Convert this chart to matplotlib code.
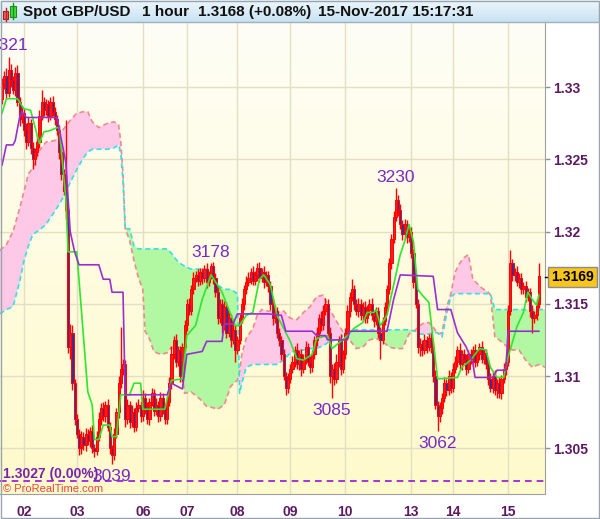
import matplotlib
matplotlib.use("Agg")
import matplotlib.pyplot as plt
import numpy as np
from matplotlib.colors import LinearSegmentedColormap
from matplotlib.patches import Rectangle
from matplotlib.lines import Line2D

plt.rcParams['font.family'] = ['Liberation Sans', 'DejaVu Sans']

# ---------------- data ----------------
instrument = 'Spot GBP/USD'
timeframe = '1 hour'
last_info = '1.3168 (+0.08%)'
stamp = '15-Nov-2017 15:17:31'
ref_level = 1.3027

first_open = 1.3292
close = [
    1.3302, 1.3308, 1.3296, 1.3312, 1.3305, 1.3298, 1.3310, 1.3290, 1.3278, 1.3282,
    1.3270, 1.3262, 1.3275, 1.3258, 1.3250, 1.3255, 1.3262, 1.3280, 1.3290, 1.3284,
    1.3288, 1.3280, 1.3290, 1.3283, 1.3278, 1.3270, 1.3255, 1.3240, 1.3228, 1.3215,
    1.3120, 1.3130, 1.3095, 1.3070, 1.3060, 1.3050, 1.3058, 1.3052, 1.3060, 1.3055, 1.3062, 1.3050,
    1.3048, 1.3058, 1.3070, 1.3078, 1.3072, 1.3080, 1.3065, 1.3050, 1.3045, 1.3060,
    1.3075, 1.3095, 1.3105, 1.3108, 1.3070, 1.3080, 1.3068, 1.3075, 1.3065, 1.3078,
    1.3080, 1.3072, 1.3085, 1.3078, 1.3070, 1.3082, 1.3088, 1.3076, 1.3080, 1.3072, 1.3085, 1.3078, 1.3070, 1.3082,
    1.3095, 1.3115, 1.3125, 1.3110, 1.3118, 1.3100,
    1.3120, 1.3135, 1.3150, 1.3145, 1.3160, 1.3168,
    1.3170, 1.3166, 1.3172, 1.3168, 1.3174, 1.3165, 1.3170, 1.3176, 1.3168,
    1.3158, 1.3140, 1.3150, 1.3135,
    1.3148, 1.3130, 1.3140, 1.3125, 1.3132, 1.3118, 1.3125,
    1.3140, 1.3150, 1.3160, 1.3165,
    1.3168, 1.3172, 1.3166, 1.3170, 1.3175, 1.3168, 1.3172, 1.3165, 1.3170, 1.3162,
    1.3150, 1.3140, 1.3145, 1.3130, 1.3125,
    1.3115, 1.3100, 1.3092, 1.3098, 1.3105,
    1.3110, 1.3118, 1.3108, 1.3115, 1.3105, 1.3112, 1.3120, 1.3110, 1.3106, 1.3115,
    1.3125, 1.3130, 1.3140, 1.3135, 1.3145, 1.3150,
    1.3130, 1.3100, 1.3105, 1.3098,
    1.3110, 1.3125, 1.3105, 1.3115,
    1.3130, 1.3145, 1.3155, 1.3160, 1.3150,
    1.3145, 1.3150, 1.3142, 1.3148, 1.3140, 1.3146, 1.3150, 1.3142, 1.3138, 1.3145,
    1.3130, 1.3125, 1.3138, 1.3148,
    1.3160, 1.3178, 1.3195, 1.3210, 1.3222, 1.3215, 1.3205,
    1.3198, 1.3205, 1.3196, 1.3200,
    1.3185, 1.3165, 1.3150, 1.3120,
    1.3122, 1.3118, 1.3125, 1.3120, 1.3126, 1.3120,
    1.3100, 1.3080, 1.3072, 1.3078,
    1.3085, 1.3095, 1.3090, 1.3100, 1.3092, 1.3105,
    1.3110, 1.3118, 1.3108, 1.3115, 1.3112, 1.3105,
    1.3115, 1.3112, 1.3118, 1.3110, 1.3115, 1.3120, 1.3112, 1.3116, 1.3108,
    1.3098, 1.3092, 1.3100, 1.3090, 1.3095, 1.3088,
    1.3098, 1.3105, 1.3110,
    1.3145, 1.3178, 1.3170,
    1.3172, 1.3165, 1.3168, 1.3160,
    1.3162, 1.3155, 1.3158,
    1.3145, 1.3140, 1.3142,
    1.3150, 1.3169,
]
# wick lengths above body / below body, in pips
up_pips = [
    4, 3, 5, 9, 4, 3, 4, 5, 3, 4,
    3, 5, 4, 3, 4, 3, 5, 4, 8, 3,
    4, 3, 3, 4, 3, 3, 4, 3, 3, 49,
    2, 6, 5, 3, 4, 3, 4, 3, 4, 3, 3, 4,
    3, 4, 5, 3, 4, 3, 4, 3, 2, 4,
    3, 5, 29, 4, 3, 4, 3, 5, 3, 4,
    4, 3, 5, 3, 4, 3, 4, 3, 5, 3, 4, 3, 3, 4,
    4, 6, 3, 4, 3, 3,
    3, 4, 3, 4, 3, 4,
    3, 4, 3, 3, 3, 4, 3, 2, 3,
    3, 4, 3, 3,
    4, 3, 4, 3, 4, 3, 3,
    3, 4, 3, 4,
    4, 3, 4, 3, 3, 4, 3, 4, 3, 3,
    4, 3, 4, 3, 3,
    3, 4, 3, 4, 3,
    4, 3, 5, 3, 4, 3, 4, 3, 4, 3,
    3, 4, 3, 5, 4, 4,
    3, 4, 3, 4,
    5, 3, 4, 3,
    3, 4, 3, 7, 3,
    3, 4, 3, 3, 4, 3, 3, 4, 3, 3,
    3, 4, 3, 3,
    3, 4, 3, 4, 8, 3, 4,
    3, 4, 3, 3,
    3, 3, 4, 3,
    4, 3, 4, 3, 3, 4,
    3, 4, 3, 4,
    3, 4, 3, 4, 3, 4,
    4, 3, 5, 3, 4, 3,
    3, 4, 3, 4, 3, 3, 4, 3, 3,
    3, 4, 3, 4, 3, 4,
    3, 4, 3,
    4, 9, 3,
    3, 4, 3, 3,
    3, 4, 3,
    3, 4, 3,
    3, 9,
]
dn_pips = [
    4, 3, 4, 3, 5, 3, 4, 3, 5, 3,
    4, 5, 3, 4, 7, 4, 3, 4, 3, 4,
    3, 4, 3, 3, 4, 3, 5, 4, 3, 6,
    4, 8, 5, 4, 3, 5, 4, 3, 4, 3, 4, 3,
    4, 3, 3, 4, 3, 4, 3, 4, 6, 3,
    3, 4, 3, 4, 5, 3, 4, 3, 4, 3,
    3, 4, 3, 4, 3, 4, 3, 4, 3, 4, 3, 4, 3, 3,
    3, 4, 3, 4, 3, 4,
    4, 3, 4, 3, 3, 3,
    3, 4, 3, 4, 3, 4, 3, 3, 4,
    3, 4, 3, 5,
    3, 4, 3, 5, 3, 8, 3,
    3, 3, 4, 3,
    3, 4, 3, 3, 4, 3, 3, 4, 3, 4,
    4, 5, 3, 4, 4,
    4, 3, 5, 4, 3,
    3, 4, 3, 4, 5, 3, 4, 3, 4, 3,
    3, 4, 3, 4, 3, 3,
    4, 5, 15, 4,
    3, 4, 4, 3,
    3, 3, 4, 3, 4,
    3, 4, 3, 4, 3, 3, 4, 3, 4, 3,
    4, 13, 3, 3,
    3, 3, 4, 3, 3, 4, 3,
    4, 3, 4, 3,
    3, 4, 3, 4,
    6, 4, 3, 4, 3, 4,
    4, 3, 10, 4,
    4, 3, 4, 3, 4, 3,
    3, 4, 3, 4, 3, 4,
    3, 4, 3, 4, 3, 4, 3, 4, 3,
    4, 3, 4, 3, 5, 3,
    4, 3, 4,
    3, 3, 4,
    4, 3, 4, 3,
    3, 4, 3,
    4, 10, 3,
    3, 3,
]

# Tenkan-sen (green)
tenkan_idx = [0, 2, 7, 10, 13, 17, 19, 22, 25, 26, 29, 30, 34, 39, 41, 42, 44, 45, 46, 49,
              50, 52, 54, 58, 60, 63, 64, 74, 77, 82, 84, 88, 91, 95, 98, 100, 106, 108, 111, 114,
              117, 119, 122, 125, 128, 131, 134, 137, 141, 143, 148, 150, 154, 157, 160, 164, 166, 169, 170, 172,
              175, 178, 181, 183, 185, 187, 189, 191, 194, 198, 207, 209, 213, 217, 220, 222, 225, 228, 230, 234,
              237, 239, 241, 243, 244]
tenkan_val = [1.3282, 1.3292, 1.3292, 1.3285, 1.3284, 1.3261, 1.3269, 1.3270, 1.3272, 1.3272,
              1.3223, 1.3186, 1.3186, 1.3089, 1.3080, 1.3056, 1.3056, 1.3061, 1.3066, 1.3066,
              1.3058, 1.3058, 1.3087, 1.3087, 1.3095, 1.3095, 1.3077, 1.3077, 1.3097, 1.3098,
              1.3128, 1.3135, 1.3153, 1.3170, 1.3163, 1.3158, 1.3135, 1.3135, 1.3142, 1.3144,
              1.3167, 1.3170, 1.3163, 1.3142, 1.3133, 1.3124, 1.3112, 1.3111, 1.3115, 1.3126,
              1.3128, 1.3119, 1.3124, 1.3128, 1.3133, 1.3137, 1.3144, 1.3144, 1.3146, 1.3135,
              1.3142, 1.3163, 1.3184, 1.3193, 1.3205, 1.3193, 1.3160, 1.3156, 1.3151, 1.3098,
              1.3099, 1.3106, 1.3111, 1.3119, 1.3118, 1.3106, 1.3099, 1.3099, 1.3113, 1.3134,
              1.3144, 1.3158, 1.3153, 1.3149, 1.3156]

# Kijun-sen (purple)
kijun_idx = [0, 2, 5, 6, 8, 9, 11, 25, 29, 31, 33, 35, 44, 46, 49, 50, 55, 56, 75, 77,
             82, 84, 91, 93, 100, 101, 105, 107, 121, 127, 129, 141, 143, 147, 148, 157, 158, 175, 178, 181,
             196, 198, 204, 207, 211, 214, 215, 223, 225, 229, 230, 244]
kijun_val = [1.3246, 1.3260, 1.3260, 1.3263, 1.3279, 1.3283, 1.3279, 1.3279, 1.3248, 1.3200,
             1.3186, 1.3177, 1.3177, 1.3167, 1.3167, 1.3158, 1.3158, 1.3087, 1.3087, 1.3095,
             1.3091, 1.3115, 1.3117, 1.3124, 1.3124, 1.3136, 1.3136, 1.3143, 1.3143, 1.3142,
             1.3131, 1.3131, 1.3128, 1.3128, 1.3125, 1.3125, 1.3131, 1.3131, 1.3153, 1.3170,
             1.3169, 1.3146, 1.3146, 1.3130, 1.3120, 1.3109, 1.3099, 1.3099, 1.3104, 1.3104,
             1.3131, 1.3131]

# Cloud spans (A = salmon dashed, B = cyan dashed)
cloud_idx = [-1, 2, 5, 8, 10, 12, 14, 17, 20, 24, 28, 31, 34, 37, 39, 41, 44, 48, 51, 53,
             54, 55, 56, 58, 60, 62, 64, 65, 67, 69, 72, 75, 77, 80, 82, 83, 86, 90, 93, 96,
             98, 101, 104, 107, 108, 109, 111, 114, 116, 118, 121, 125, 128, 131, 134, 137, 140, 143, 146, 149,
             152, 154, 156, 158, 161, 164, 167, 170, 173, 176, 179, 182, 185, 188, 190, 192, 194, 196, 198, 200,
             202, 204, 206, 208, 210, 212, 214, 218, 221, 222, 224, 226, 229, 232, 235, 238, 241, 244, 247]
span_a = [1.3187, 1.3191, 1.3200, 1.3216, 1.3228, 1.3240, 1.3244, 1.3256, 1.3262, 1.3263,
          1.3271, 1.3277, 1.3282, 1.3283, 1.3283, 1.3276, 1.3272, 1.3275, 1.3276, 1.3274,
          1.3262, 1.3240, 1.3202, 1.3194, 1.3180, 1.3168, 1.3160, 1.3131, 1.3126, 1.3117,
          1.3115, 1.3116, 1.3120, 1.3112, 1.3100, 1.3088, 1.3089, 1.3084, 1.3079, 1.3078,
          1.3077, 1.3080, 1.3093, 1.3097, 1.3103, 1.3115, 1.3126, 1.3133, 1.3142, 1.3146,
          1.3145, 1.3144, 1.3145, 1.3140, 1.3139, 1.3144, 1.3148, 1.3155, 1.3156, 1.3146,
          1.3138, 1.3133, 1.3128, 1.3125, 1.3119, 1.3120, 1.3125, 1.3126, 1.3124, 1.3120,
          1.3119, 1.3119, 1.3129, 1.3132, 1.3135, 1.3137, 1.3137, 1.3134, 1.3129, 1.3130,
          1.3147, 1.3157, 1.3172, 1.3178, 1.3182, 1.3184, 1.3167, 1.3161, 1.3158, 1.3156,
          1.3127, 1.3125, 1.3121, 1.3118, 1.3118, 1.3111, 1.3106, 1.3108, 1.3106]
span_b = [1.3143, 1.3146, 1.3148, 1.3165, 1.3180, 1.3190, 1.3198, 1.3201, 1.3205, 1.3214,
          1.3224, 1.3234, 1.3243, 1.3251, 1.3255, 1.3257, 1.3257, 1.3257, 1.3258, 1.3260,
          1.3254, 1.3235, 1.3202, 1.3202, 1.3190, 1.3188, 1.3188, 1.3188, 1.3188, 1.3188,
          1.3188, 1.3188, 1.3185, 1.3179, 1.3177, 1.3176, 1.3174, 1.3174, 1.3174, 1.3173,
          1.3163, 1.3160, 1.3160, 1.3157, 1.3088, 1.3095, 1.3106, 1.3108, 1.3108, 1.3108,
          1.3108, 1.3108, 1.3111, 1.3116, 1.3118, 1.3118, 1.3119, 1.3119, 1.3121, 1.3124,
          1.3125, 1.3126, 1.3130, 1.3131, 1.3132, 1.3132, 1.3132, 1.3132, 1.3132, 1.3132,
          1.3132, 1.3132, 1.3132, 1.3131, 1.3129, 1.3129, 1.3129, 1.3130, 1.3130, 1.3127,
          1.3142, 1.3155, 1.3157, 1.3157, 1.3157, 1.3157, 1.3157, 1.3157, 1.3157, 1.3157,
          1.3146, 1.3146, 1.3146, 1.3146, 1.3146, 1.3146, 1.3146, 1.3146, 1.3146]

# swing labels: bar index, 'high' or 'low'
swing_bars = [3, 95, 179, 50, 150, 198]
swing_kind = ['high', 'high', 'high', 'low', 'low', 'low']

day_labels = ['02', '03', '06', '07', '08', '09', '10', '13', '14', '15']
day_bars = [10, 34, 64, 84, 107, 131, 156, 186, 205, 230]

y_ticks = [1.305, 1.31, 1.315, 1.32, 1.325, 1.33]
y_tick_labels = ['1.305', '1.31', '1.315', '1.32', '1.325', '1.33']

# ---------------- derived OHLC ----------------
n = min(len(close), len(up_pips), len(dn_pips))
c_arr = np.array(close[:n])
o_arr = np.concatenate([[first_open], c_arr[:-1]])
h_arr = np.maximum(o_arr, c_arr) + np.array(up_pips[:n]) * 1e-4
l_arr = np.minimum(o_arr, c_arr) - np.array(dn_pips[:n]) * 1e-4
idx = np.arange(n)

# ---------------- figure ----------------
W, H = 600, 519
fig = plt.figure(figsize=(W / 100, H / 100), dpi=100)
fig.patch.set_facecolor('white')


def fx(px):
    return px / W


def fy(py):
    return 1 - py / H


XMIN, XMAX = -0.91, 246.8
YMIN, YMAX = 1.30183, 1.33451

ax = fig.add_axes([0, fy(494), fx(545), fy(22) - fy(494)])
ax.set_xlim(XMIN, XMAX)
ax.set_ylim(YMIN, YMAX)

bgcmap = LinearSegmentedColormap.from_list('bg', ['#fefef6', '#fffacb'])
grad = np.linspace(0, 1, 256).reshape(-1, 1)
ax.imshow(grad, cmap=bgcmap, extent=[XMIN, XMAX, YMIN, YMAX], aspect='auto',
          origin='upper', zorder=0, interpolation='bilinear')

ax.set_axisbelow(True)
ax.set_yticks(y_ticks)
ax.set_yticklabels(y_tick_labels, fontweight='bold')
ax.set_xticks(day_bars)
ax.set_xticklabels(day_labels, fontweight='bold')
ax.grid(True, color='#e3dfc3', lw=1)

# cloud
ca = np.array(span_a)
cb = np.array(span_b)
ax.fill_between(cloud_idx, ca, cb, where=ca >= cb, interpolate=True,
                facecolor='#fdc9e6', edgecolor='none', zorder=1)
ax.fill_between(cloud_idx, ca, cb, where=ca < cb, interpolate=True,
                facecolor='#b2f7a2', edgecolor='none', zorder=1)
ax.plot(cloud_idx, span_a, color='#f08a8a', lw=1.2, ls=(0, (3, 2)), zorder=2)
ax.plot(cloud_idx, span_b, color='#33e0e8', lw=1.2, ls=(0, (3, 2)), zorder=2)

# candles
ax.vlines(idx, l_arr, h_arr, color='#ff0000', lw=1.0, zorder=3)
body_bottom = np.minimum(o_arr, c_arr)
body_h = np.maximum(np.abs(c_arr - o_arr), 0.00003)
faces = ['#ff1a1a' if c >= o else '#4a2a86' for o, c in zip(o_arr, c_arr)]
ax.bar(idx, body_h, bottom=body_bottom, width=1.0, color=faces,
       edgecolor='#ff0000', linewidth=0.7, zorder=3.1)

# indicator lines
ax.plot(tenkan_idx, tenkan_val, color='#2ee62e', lw=1.2, zorder=4)
ax.plot(kijun_idx, kijun_val, color='#9a2fd0', lw=1.2, zorder=4)

# reference dashed level
ax.axhline(ref_level, color='#9b10d8', lw=1.2, ls=(0, (4, 3)), zorder=5)

# swing labels
for b, k in zip(swing_bars, swing_kind):
    v = h_arr[b] if k == 'high' else l_arr[b]
    txt = '%04d' % (int(round(v * 1e4)) % 10000)
    off = 11 if k == 'high' else -12.5
    ax.annotate(txt, (b, v), xytext=(0, off), textcoords='offset pixels',
                ha='center', va='center', fontsize=12.5, color='#7a28c8',
                zorder=6, annotation_clip=False)

# axes styling
for s in ['top', 'left']:
    ax.spines[s].set_visible(False)
ax.spines['right'].set_color('#a0a0a0')
ax.spines['bottom'].set_color('#a0a0a0')
ax.yaxis.tick_right()
ax.tick_params(axis='y', direction='out', length=3.6, width=1, color='#909090',
               pad=2, labelsize=10, labelcolor='#5c1a62')
ax.tick_params(axis='x', length=0, pad=8, labelsize=10, labelcolor='#5c1a62')

# texts inside the plot
fig.text(fx(3), fy(474), '%.4f (0.00%%)' % ref_level, ha='left', va='center',
         fontsize=10, fontweight='bold', color='#7a22b0')
fig.text(fx(3), fy(489), '\u00a9 ProRealTime.com', ha='left', va='center',
         fontsize=8, color='#e5483f')

# last price box
fig.add_artist(Line2D([fx(545), fx(549)], [fy(277), fy(277)], color='black', lw=1))
fig.text(fx(572.5), fy(277), '%.4f' % c_arr[-1], ha='center', va='center',
         fontsize=10, fontweight='bold', color='black',
         bbox=dict(boxstyle='square,pad=0.2', fc='#f7c51b', ec='#8c8c8c', lw=1))

# title bar
tax = fig.add_axes([0, fy(22), 1, 22 / H])
tcmap = LinearSegmentedColormap.from_list('tb', ['#eef7fc', '#c8e2f2'])
tax.imshow(grad, cmap=tcmap, extent=[0, 1, 0, 1], aspect='auto', origin='upper',
           interpolation='bilinear')
tax.set_axis_off()
fig.add_artist(Line2D([0, 1], [fy(22), fy(22)], color='#9fb0bf', lw=1))

# title icon (two small candles)
fig.add_artist(Line2D([fx(5.5), fx(5.5)], [fy(8), fy(21)], color='#c02020', lw=1))
fig.add_artist(Rectangle((fx(3), fy(19)), fx(5), 8 / H, fc='#f06060', ec='#b01818', lw=0.8))
fig.add_artist(Line2D([fx(13), fx(13)], [fy(3), fy(19)], color='#189018', lw=1))
fig.add_artist(Rectangle((fx(10), fy(17)), fx(6), 11 / H, fc='#40e040', ec='#189018', lw=0.8))

tkw = dict(ha='left', va='center', fontsize=11, fontweight='bold', color='#111111')
fig.text(fx(23), fy(12), instrument, **tkw)
fig.text(fx(142), fy(12), timeframe, **tkw)
fig.text(fx(198), fy(12), last_info, **tkw)
fig.text(fx(318), fy(12), stamp, **tkw)

# outer frame
fig.add_artist(Rectangle((0.5 / W, 1.5 / H), 598 / W, 517 / H, fill=False,
                         ec='#9aa4ae', lw=1))

fig.savefig('out.png', dpi=100)
